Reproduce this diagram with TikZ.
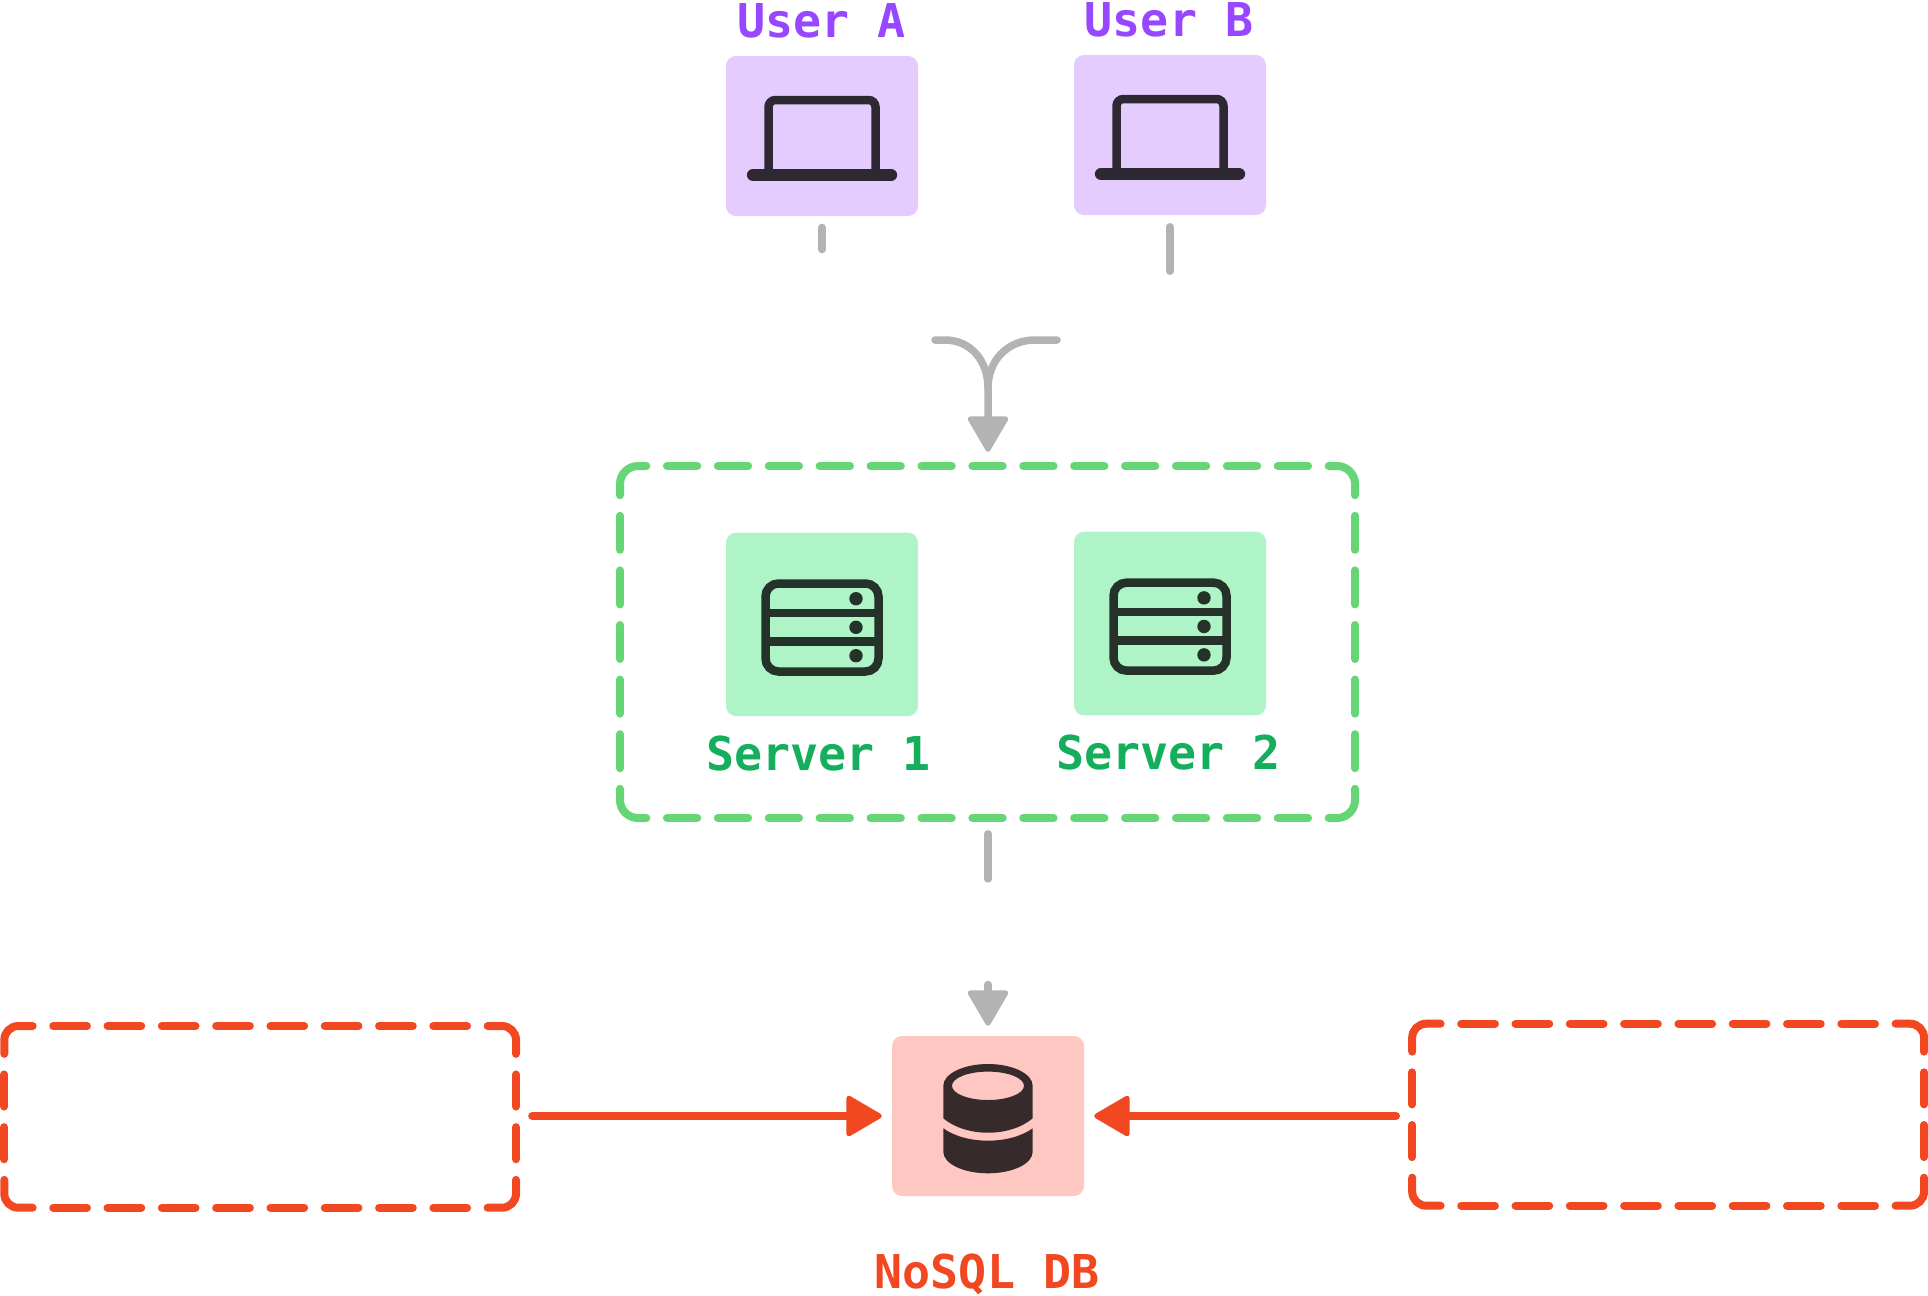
\documentclass[tikz,border=0pt]{standalone}
\usepackage{fontspec}
\usetikzlibrary{arrows.meta}
\newfontfamily\labelfont[Ligatures=NoCommon]{DejaVu Sans Mono Bold}
\definecolor{purpletext}{HTML}{9747FF}
\definecolor{purplebox}{HTML}{E4CCFF}
\definecolor{greentext}{HTML}{14AE5C}
\definecolor{greenbox}{HTML}{AFF4C6}
\definecolor{greenframe}{HTML}{66D575}
\definecolor{redmain}{HTML}{F24822}
\definecolor{redbox}{HTML}{FFC7C2}
\definecolor{graymain}{HTML}{B3B3B3}
\definecolor{laptopink}{HTML}{2E2833}
\definecolor{serverink}{HTML}{25322A}
\definecolor{dbink}{HTML}{362A2A}
\tikzset{
  iconbox/.style={rounded corners=10pt,inner sep=0pt,minimum width=192pt,draw=none},
  framebox/.style={inner sep=0pt,draw=none},
  caption/.style={font=\labelfont\fontsize{46.6}{50}\selectfont,anchor=base,inner sep=0pt},
  grayline/.style={draw=graymain,line width=7.5pt,line cap=round},
  grayarrow/.style={grayline,-{Triangle[length=38pt,width=43pt,line width=5pt,round]}},
  redarrow/.style={draw=redmain,line width=8pt,line cap=round,-{Triangle[length=38pt,width=43pt,line width=5pt,round]}},
  dashgreen/.style={draw=greenframe,line width=8pt,line cap=round},
  dashred/.style={draw=redmain,line width=8pt,line cap=round},
  laptopicon/.pic={
    \draw[laptopink,line width=8.5pt,rounded corners=7pt] (-53.5,39) -- (-53.5,-36) -- (53.5,-36) -- (53.5,39);
    \draw[laptopink,line width=12.3pt,line cap=round] (-69,39) -- (69,39);
  },
  servericon/.pic={
    \draw[serverink,line width=8.5pt,rounded corners=13pt] (-56.5,-40.85) rectangle (56.5,47.15);
    \draw[serverink,line width=8.5pt] (-56.5,-11.35) -- (56.5,-11.35) (-56.5,17.15) -- (56.5,17.15);
    \fill[serverink] (34,-25.65) circle[radius=6.7pt] (34,2.95) circle[radius=6.7pt] (34,31.35) circle[radius=6.7pt];
  },
  dbicon/.pic={
    \fill[dbink,even odd rule] (-44.7,-30.2) .. controls (-44.7,-42.2) and (-24.7,-52) .. (0,-52)
      .. controls (24.7,-52) and (44.7,-42.2) .. (44.7,-30.2) -- (44.7,2.3)
      .. controls (22,21.5) and (-22,21.5) .. (-44.7,2.3) -- cycle
      (0,-30.2) ellipse[x radius=36pt,y radius=14.2pt];
    \fill[dbink] (-44.7,12.3) .. controls (-22,28.8) and (22,28.8) .. (44.7,12.3) -- (44.7,35.7)
      .. controls (44.7,47.7) and (24.7,57.3) .. (0,57.3)
      .. controls (-24.7,57.3) and (-44.7,47.7) .. (-44.7,35.7) -- cycle;
  },
}
% x0,y0,x1,y1,radius,h pitch,h corner index,v pitch,v corner index
\newcommand\dashframe[9]{%
  \pgfmathsetmacro\dfXc{(#1+#3)/2}%
  \pgfmathsetmacro\dfYc{(#2+#4)/2}%
  \pgfmathsetmacro\dfHon{#6-20.6}%
  \pgfmathsetmacro\dfVon{#8-20.6}%
  \pgfmathsetmacro\dfHl{\dfXc-#7*#6+\dfHon/2}%
  \pgfmathsetmacro\dfHr{\dfXc+#7*#6-\dfHon/2}%
  \pgfmathsetmacro\dfVt{\dfYc-#9*#8+\dfVon/2}%
  \pgfmathsetmacro\dfVb{\dfYc+#9*#8-\dfVon/2}%
  \pgfmathtruncatemacro\dfHn{2*#7-1}%
  \pgfmathtruncatemacro\dfVn{2*#9-1}%
  \draw[rounded corners=#5pt] (#1,\dfVt) -- (#1,#2) -- (\dfHl,#2);
  \draw[rounded corners=#5pt] (\dfHr,#2) -- (#3,#2) -- (#3,\dfVt);
  \draw[rounded corners=#5pt] (#1,\dfVb) -- (#1,#4) -- (\dfHl,#4);
  \draw[rounded corners=#5pt] (\dfHr,#4) -- (#3,#4) -- (#3,\dfVb);
  \foreach \i in {1,...,\dfHn}{%
    \pgfmathsetmacro\dfC{\dfXc+(\i-#7)*#6}%
    \draw (\dfC-\dfHon/2,#2) -- (\dfC+\dfHon/2,#2);
    \draw (\dfC-\dfHon/2,#4) -- (\dfC+\dfHon/2,#4);
  }%
  \foreach \i in {1,...,\dfVn}{%
    \pgfmathsetmacro\dfC{\dfYc+(\i-#9)*#8}%
    \draw (#1,\dfC-\dfVon/2) -- (#1,\dfC+\dfVon/2);
    \draw (#3,\dfC-\dfVon/2) -- (#3,\dfC+\dfVon/2);
  }%
}
\begin{document}
\begin{tikzpicture}[x=1pt,y=-1pt]
\useasboundingbox (0,0) rectangle (1928,1296);
\fill[white] (0,0) rectangle (1928,1296);

% user boxes
\node[iconbox,fill=purplebox,minimum height=160pt] (boxA) at (822,136) {};
\node[iconbox,fill=purplebox,minimum height=160pt] (boxB) at (1170,135) {};
\pic at (boxA.center) {laptopicon};
\pic at (boxB.center) {laptopicon};
\node[caption,text=purpletext] (labelA) at (821.5,37) {User A};
\node[caption,text=purpletext] (labelB) at (1169,36) {User B};

% server group
\node[framebox,minimum width=735pt,minimum height=352pt] (groupS) at (987.5,642) {};
\begin{scope}[dashgreen]
\dashframe{620}{466}{1355}{818}{18}{50.9}{7}{54.6}{3}
\end{scope}
\node[iconbox,fill=greenbox,minimum height=183.3pt] (boxS1) at (822,624.35) {};
\node[iconbox,fill=greenbox,minimum height=183.6pt] (boxS2) at (1170,623.5) {};
\pic at (boxS1.center) {servericon};
\pic at (boxS2.center) {servericon};
\node[caption,text=greentext] (labelS1) at (818.5,770) {Server 1};
\node[caption,text=greentext] (labelS2) at (1168.5,769) {Server 2};

% database
\node[iconbox,fill=redbox,minimum height=160pt] (boxDB) at (988,1116) {};
\pic at (boxDB.center) {dbicon};
\node[caption,text=redmain] (labelDB) at (987,1288) {NoSQL DB};

% side groups
\node[framebox,minimum width=511.7pt,minimum height=181.7pt] (groupL) at (260.15,1116.85) {};
\node[framebox,minimum width=511.8pt,minimum height=182pt] (groupR) at (1668.1,1114.7) {};
\begin{scope}[dashred]
\dashframe{4.3}{1026}{516}{1207.7}{14}{54.3}{4.5}{52.7}{1.5}
\dashframe{1412.2}{1023.7}{1924}{1205.7}{14}{54.3}{4.5}{52.7}{1.5}
\end{scope}

% broken connectors
\coordinate (stubAtop) at (822,227.5);
\coordinate (stubAend) at (822,249.5);
\coordinate (stubBtop) at (1170,226.8);
\coordinate (stubBend) at (1170,271.2);
\coordinate (stubStop) at (988,833.8);
\coordinate (stubSend) at (988,878.9);
\coordinate (forkL) at (935,340);
\coordinate (forkR) at (1057,340);
\coordinate (headDB) at (988,984.5);
\draw[grayline] (stubAtop) -- (stubAend);
\draw[grayline] (stubBtop) -- (stubBend);
\draw[grayline] (stubStop) -- (stubSend);
\draw[grayline] (forkL) -- (945,340) .. controls (970,340) and (988,360) .. (988,388);
\draw[grayarrow,shorten >=14pt] (forkR) -- (1035,340) .. controls (1008,340) and (988,360) .. (988,388) -- (groupS.north -| 988,466);
\draw[grayarrow,shorten >=10pt] (headDB) -- (boxDB.north);
\draw[redarrow,shorten <=16pt,shorten >=10pt] (groupL.east |- boxDB.west) -- (boxDB.west);
\draw[redarrow,shorten <=16pt,shorten >=10pt] (groupR.west |- boxDB.east) -- (boxDB.east);
\end{tikzpicture}
\end{document}
